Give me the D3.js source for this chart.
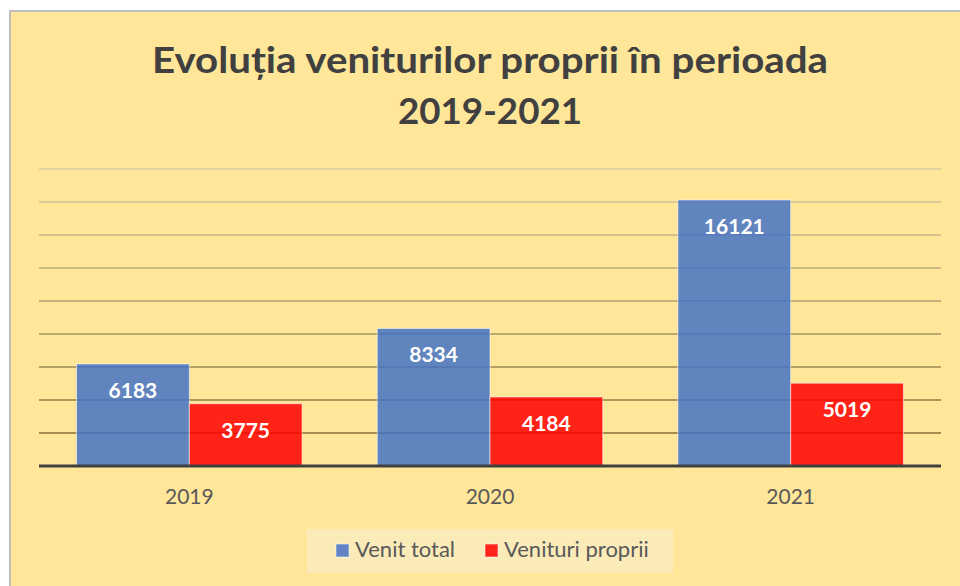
<!DOCTYPE html>
<html>
<head>
<meta charset="utf-8">
<script src="https://cdn.jsdelivr.net/npm/d3@7"></script>
<style>
  body { margin: 0; background: #fff; }
  text { font-family: Lato, "Open Sans", sans-serif; }
</style>
</head>
<body>
<div id="content"></div>
<script>
// chart data
var years = ["2019", "2020", "2021"];
var seriesNames = ["Venit total", "Venituri proprii"];
var venitTotal = [6183, 8334, 16121];
var venituriProprii = [3775, 4184, 5019];
var yTicks = [2000, 4000, 6000, 8000, 10000, 12000, 14000, 16000, 18000];
var titleLines = ["Evoluția veniturilor proprii în perioada", "2019-2021"];

var colors = ["#4472c4", "#ff0000"];

var W = 960, H = 586;
var plot = {left: 39, right: 941, top: 169, bottom: 466};

var svg = d3.select("#content").append("svg")
  .attr("width", W).attr("height", H);

// chart area with thin grey frame
svg.append("rect")
  .attr("x", 10).attr("y", 11)
  .attr("width", W + 20).attr("height", H + 20)
  .attr("fill", "#ffe699")
  .attr("stroke", "#bfbfbf")
  .attr("stroke-width", 2);

// title
svg.selectAll(".title")
  .data(titleLines)
  .enter().append("text")
  .attr("class", "title")
  .attr("x", 490)
  .attr("y", function(d, i) { return 73 + i * 50.5; })
  .attr("text-anchor", "middle")
  .attr("fill", "#404040")
  .style("font-size", "37px")
  .style("font-weight", "bold")
  .attr("textLength", function(d, i) { return i == 0 ? 676 : 184; })
  .attr("lengthAdjust", "spacingAndGlyphs")
  .text(function(d) { return d; });

var x0 = d3.scaleBand().domain(years)
  .range([plot.left, plot.right])
  .paddingInner(0.25).paddingOuter(0.125);
var x1 = d3.scaleBand().domain(seriesNames)
  .range([0, x0.bandwidth()]);
var y = d3.scaleLinear().domain([0, 18000])
  .range([plot.bottom, plot.top]);

// gridlines, darker towards the bottom
var gridColor = d3.interpolateRgb("#e2d3a0", "#a48e50");
svg.append("g")
  .selectAll("line")
  .data(yTicks)
  .enter().append("line")
  .attr("x1", plot.left).attr("x2", plot.right)
  .attr("y1", function(d) { return y(d); })
  .attr("y2", function(d) { return y(d); })
  .attr("stroke", function(d, i) { return gridColor(1 - i / (yTicks.length - 1)); })
  .attr("stroke-width", 1.8);

// bars
var rows = years.map(function(yr, i) {
  return {year: yr, values: [venitTotal[i], venituriProprii[i]]};
});

var groups = svg.selectAll(".grp")
  .data(rows)
  .enter().append("g")
  .attr("class", "grp")
  .attr("transform", function(d) { return "translate(" + x0(d.year) + ",0)"; });

groups.selectAll("rect")
  .data(function(d) { return d.values.map(function(v, j) { return {name: seriesNames[j], value: v, j: j}; }); })
  .enter().append("rect")
  .attr("x", function(d) { return x1(d.name); })
  .attr("y", function(d) { return y(d.value); })
  .attr("width", x1.bandwidth())
  .attr("height", function(d) { return y(0) - y(d.value); })
  .attr("fill", function(d) { return colors[d.j]; })
  .attr("fill-opacity", 0.85)
  .attr("stroke", "rgba(255,255,255,0.55)")
  .attr("stroke-width", 1);

groups.selectAll(".lbl")
  .data(function(d) { return d.values.map(function(v, j) { return {name: seriesNames[j], value: v}; }); })
  .enter().append("text")
  .attr("class", "lbl")
  .attr("x", function(d) { return x1(d.name) + x1.bandwidth() / 2; })
  .attr("y", function(d) { return y(d.value) + 34; })
  .attr("text-anchor", "middle")
  .attr("fill", "#ffffff")
  .style("font-size", "21px")
  .style("font-weight", "bold")
  .text(function(d) { return d.value; });

// baseline + category axis
var xAxis = svg.append("g")
  .attr("transform", "translate(0," + plot.bottom + ")")
  .call(d3.axisBottom(x0).tickSize(0).tickPadding(0));
xAxis.select(".domain").remove();
xAxis.selectAll("text")
  .attr("dy", null)
  .attr("y", 38)
  .attr("fill", "#595959")
  .style("font-size", "21px")
  .style("font-family", "Lato, sans-serif");

svg.append("line")
  .attr("x1", plot.left).attr("x2", plot.right)
  .attr("y1", plot.bottom).attr("y2", plot.bottom)
  .attr("stroke", "#404040")
  .attr("stroke-width", 3);

// legend
var legend = svg.append("g");
legend.append("rect")
  .attr("x", 307).attr("y", 529)
  .attr("width", 366).attr("height", 44)
  .attr("fill", "#fbebb9");

var legX = [336, 485];
var items = legend.selectAll(".item")
  .data(seriesNames)
  .enter().append("g")
  .attr("class", "item")
  .attr("transform", function(d, i) { return "translate(" + legX[i] + ",0)"; });

items.append("rect")
  .attr("x", 0).attr("y", 544)
  .attr("width", 13).attr("height", 13)
  .attr("fill", function(d, i) { return colors[i]; })
  .attr("fill-opacity", 0.85)
  .attr("stroke", "rgba(255,255,255,0.55)");

items.append("text")
  .attr("x", 19).attr("y", 557)
  .attr("fill", "#595959")
  .style("font-size", "22px")
  .text(function(d) { return d; });
</script>
</body>
</html>
